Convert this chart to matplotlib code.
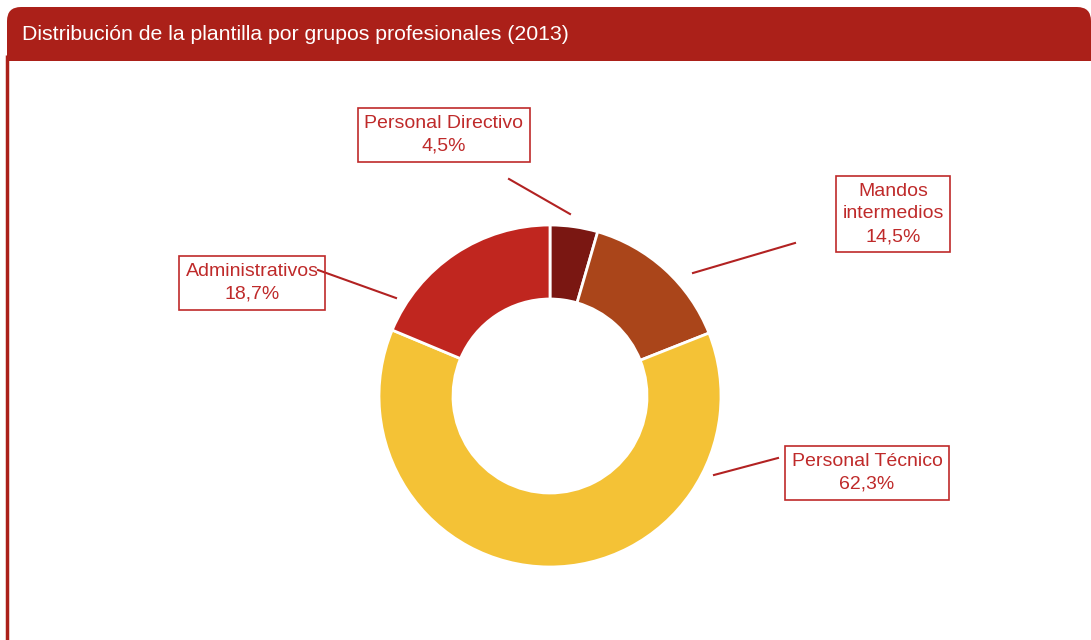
import matplotlib.pyplot as plt
from matplotlib.patches import FancyBboxPatch, Rectangle

plt.rcParams['font.family'] = ['Liberation Sans', 'DejaVu Sans']

title = 'Distribución de la plantilla por grupos profesionales (2013)'
grupos = ['Personal Directivo', 'Mandos\nintermedios', 'Personal Técnico', 'Administrativos']
porcentajes = [4.5, 14.5, 62.3, 18.7]
colores = ['#7a1712', '#aa451a', '#f4c236', '#c0261f']

W, H = 1091, 640
fig = plt.figure(figsize=(W / 100, H / 100), dpi=100)
ax = fig.add_axes([0, 0, 1, 1])

red = '#ab2019'
cx, cy, r = 550, H - 396, 171
ax.pie(porcentajes, colors=colores, startangle=90, counterclock=False,
       center=(cx, cy), radius=r, frame=True,
       wedgeprops=dict(width=74, edgecolor='white', linewidth=2))
ax.set_xlim(0, W)
ax.set_ylim(0, H)
ax.set_aspect('equal')
ax.axis('off')

# header with rounded top corners
ax.add_patch(FancyBboxPatch((7, H - 61), W - 7, 54, boxstyle='round,pad=0,rounding_size=14',
                            fc=red, ec='none'))
ax.add_patch(Rectangle((7, H - 61), W - 7, 25, fc=red, ec='none'))
ax.plot([7, 7], [0, H - 55], color=red, lw=2.5, solid_capstyle='butt')
ax.text(22, H - 34, title, color='white', fontsize=15.3, va='center', ha='left')

# label boxes (center) and leader lines
label_pos = [(444, 135), (893, 214), (867, 473), (252, 283)]
leaders = [((509, 179), (570, 214)), ((795, 243), (693, 273)),
           ((778, 458), (714, 475)), ((318, 270), (396, 298))]
txt_red = '#bf2a2a'
for g, p, (lx, ly), (a, b) in zip(grupos, porcentajes, label_pos, leaders):
    ax.plot([a[0], b[0]], [H - a[1], H - b[1]], color='#b22222', lw=1.5, zorder=4)
    s = f'{g}\n{p:.1f}%'.replace('.', ',')
    ax.text(lx, H - ly, s, ha='center', va='center', fontsize=14, color=txt_red,
            linespacing=1.45, zorder=5,
            bbox=dict(boxstyle='square,pad=0.35', fc='none', ec=txt_red, lw=1.2))

fig.savefig('out.png', dpi=100, facecolor='white')
